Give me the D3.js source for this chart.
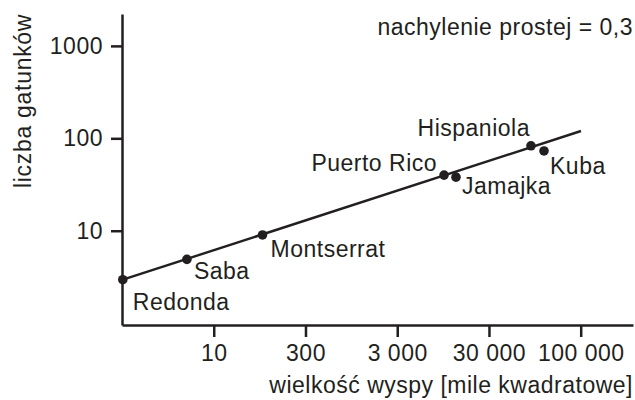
<!DOCTYPE html>
<html>
<head>
<meta charset="utf-8">
<script src="https://cdn.jsdelivr.net/npm/d3@7"></script>
<style>
  body { margin: 0; background: #fff; }
  text { font-family: "Liberation Sans", Arial, sans-serif; fill: #231f20; letter-spacing: 0.5px; }
  .axis path, .axis line { stroke: #231f20; stroke-width: 2.5px; }
  .axis text { font-size: 23px; fill: #231f20; font-family: "Liberation Sans", Arial, sans-serif; }
</style>
</head>
<body>
<div id="chart"></div>
<script>
// island data (area in sq mi, number of species)
const islands = ['Redonda', 'Saba', 'Montserrat', 'Puerto Rico', 'Jamajka', 'Hispaniola', 'Kuba'];
const areas = [1.02, 5.1, 34, 3240, 4370, 28700, 39800];
const species = [2.95, 4.9, 9, 40, 38, 83, 73];

// fitted line end points
const fitArea = [1.02, 100700];
const fitSpecies = [2.95, 120];

const xTicks = [10, 100, 1000, 10000, 100000];
const xTickLabels = ['10', '300', '3 000', '30 000', '100 000'];
const yTicks = [10, 100, 1000];
const yTickLabels = ['10', '100', '1000'];

const width = 635, height = 400;

const svg = d3.select('#chart')
    .append('svg')
    .attr('width', width)
    .attr('height', height);

const x = d3.scaleLog()
    .domain([1, Math.pow(10, 5.57)])
    .range([122, 633]);

const y = d3.scaleLog()
    .domain([Math.pow(10, -0.02), Math.pow(10, 3.345)])
    .range([325, 14]);

// axes
const xAxis = d3.axisBottom(x)
    .tickValues(xTicks)
    .tickFormat((d, i) => xTickLabels[i])
    .tickSizeInner(12)
    .tickSizeOuter(0)
    .tickPadding(8);

const yAxis = d3.axisLeft(y)
    .tickValues(yTicks)
    .tickFormat((d, i) => yTickLabels[i])
    .tickSizeInner(11)
    .tickSizeOuter(0)
    .tickPadding(8);

svg.append('g')
    .attr('class', 'axis')
    .attr('transform', 'translate(0,325)')
    .call(xAxis);

svg.append('g')
    .attr('class', 'axis')
    .attr('transform', 'translate(122,0)')
    .call(yAxis);

svg.selectAll('.axis text').attr('fill', '#231f20');
svg.selectAll('.axis').attr('font-family', null).attr('font-size', null);

// regression line
const fit = fitArea.map((a, i) => [a, fitSpecies[i]]);
svg.append('path')
    .datum(fit)
    .attr('fill', 'none')
    .attr('stroke', '#231f20')
    .attr('stroke-width', 2.4)
    .attr('d', d3.line().x(d => x(d[0])).y(d => y(d[1])));

// points
const pts = islands.map((name, i) => ({ name: name, area: areas[i], n: species[i] }));

svg.selectAll('circle.pt')
    .data(pts)
    .enter().append('circle')
    .attr('class', 'pt')
    .attr('cx', d => x(d.area))
    .attr('cy', d => y(d.n))
    .attr('r', 4.8)
    .attr('fill', '#231f20');

// label placement relative to each point
const labelOffset = {
    'Redonda':     { dx: 10, dy: 30, anchor: 'start' },
    'Saba':        { dx: 7,  dy: 20, anchor: 'start' },
    'Montserrat':  { dx: 8,  dy: 22, anchor: 'start' },
    'Puerto Rico': { dx: -7, dy: -4, anchor: 'end' },
    'Jamajka':     { dx: 6,  dy: 17, anchor: 'start' },
    'Hispaniola':  { dx: -1, dy: -10, anchor: 'end' },
    'Kuba':        { dx: 6,  dy: 23, anchor: 'start' }
};

svg.selectAll('text.lbl')
    .data(pts)
    .enter().append('text')
    .attr('class', 'lbl')
    .attr('x', d => x(d.area) + labelOffset[d.name].dx)
    .attr('y', d => y(d.n) + labelOffset[d.name].dy)
    .attr('text-anchor', d => labelOffset[d.name].anchor)
    .style('font-size', '23px')
    .text(d => d.name);

// slope note
svg.append('text')
    .attr('x', 633)
    .attr('y', 35)
    .attr('text-anchor', 'end')
    .style('font-size', '23px')
    .text('nachylenie prostej = 0,3');

// axis titles
svg.append('text')
    .attr('x', 633)
    .attr('y', 393)
    .attr('text-anchor', 'end')
    .style('font-size', '23px')
    .text('wielkość wyspy [mile kwadratowe]');

svg.append('text')
    .attr('transform', 'translate(31,188) rotate(-90)')
    .attr('text-anchor', 'start')
    .style('font-size', '23px')
    .style('letter-spacing', '0.7px')
    .text('liczba gatunków');
</script>
</body>
</html>
